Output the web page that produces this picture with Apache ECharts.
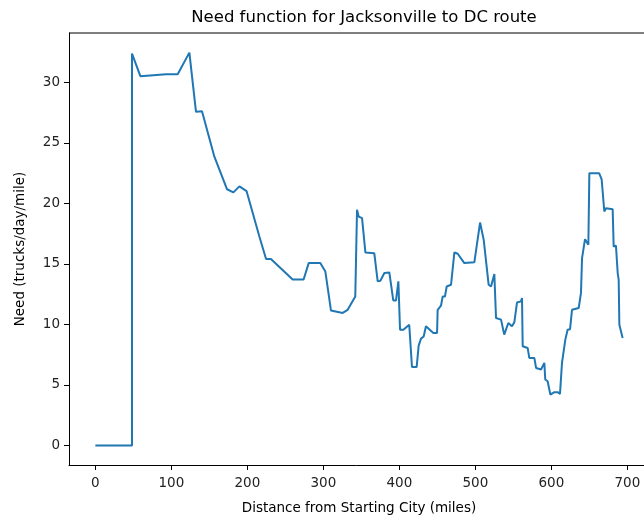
<!DOCTYPE html>
<html><head><meta charset="utf-8">
<script src="https://cdn.jsdelivr.net/npm/echarts@6/dist/echarts.min.js"></script>
<style>html,body{margin:0;padding:0;background:#fff}#c{width:644px;height:519px}</style>
</head><body><div id="c"></div>
<script>
const distances = [0,48.2,48.2,59.2,93,108.3,123.7,132.4,140.3,156.6,173.3,181.6,189.5,199,215.8,224.6,231,259.6,274,280.7,296,302.6,310,325.4,332,342,344.3,346.5,350.9,355.3,367,371.5,375,380.3,386.8,392,395.6,398.7,400.9,405.3,413,416.6,422.8,425.4,428.5,432,435,444.7,449.6,450.4,454.8,457,460,462.3,468,472.4,476.8,485.5,498.7,506.2,511,513,517.5,520.6,525,527.2,533.8,538,543.4,548.2,551.3,554.8,560,561.4,562.3,568.8,571,577.6,579.9,586.4,590.8,592,595.1,598.7,604,608.3,611.4,614,618.4,621.4,624.6,627.2,636,639,640.4,642.5,644.3,646.9,648.7,650,663,666.2,669.7,671.9,680.7,682,685,687.3,688.6,689.5,691.7,693.8];
const need = [0,0,32.37,30.5,30.67,30.67,32.45,27.56,27.6,23.85,21.16,20.9,21.4,21.0,17.26,15.4,15.4,13.7,13.7,15.06,15.06,14.37,11.15,10.94,11.2,12.3,19.46,18.9,18.77,15.94,15.88,13.55,13.6,14.24,14.29,11.98,11.98,13.55,9.56,9.56,9.97,6.48,6.48,8.24,8.82,9.0,9.84,9.29,9.29,11.2,11.54,12.3,12.3,13.13,13.27,15.94,15.83,15.06,15.14,18.41,16.98,16.84,13.27,13.13,14.15,10.52,10.39,9.15,10.11,9.84,10.17,11.8,11.9,12.17,8.19,8.05,7.23,7.23,6.4,6.27,6.82,5.44,5.3,4.2,4.4,4.4,4.26,6.82,8.74,9.56,9.6,11.2,11.35,12.6,15.47,15.6,17.04,17.04,16.57,22.48,22.48,21.98,19.32,19.59,19.51,16.43,16.5,14.24,13.7,9.97,10.1,8.88];
const xTicks = [0,100,200,300,400,500,600,700];
const yTicks = [0,5,10,15,20,25,30];
const titleText = 'Need function for Jacksonville to DC route';
const xName = 'Distance from Starting City (miles)';
const yName = 'Need (trucks/day/mile)';

const ff = 'DejaVu Sans';
const chart = echarts.init(document.getElementById('c'), null, {renderer:'canvas'});
chart.setOption({
  animation:false,
  title:{text:titleText,left:359,textAlign:'center',top:4,textStyle:{fontFamily:ff,fontSize:16.5,fontWeight:'normal',color:'#000'}},
  grid:{left:69,right:-5,top:33,bottom:54,outerBoundsMode:'none',containLabel:false},
  xAxis:{type:'value',min:-34.7,max:728.5,
    name:xName,nameLocation:'middle',nameGap:36,nameTextStyle:{fontFamily:ff,fontSize:13.5,color:'#000'},
    axisLine:{show:true,onZero:false,lineStyle:{color:'#000',width:1}},
    axisTick:{show:true,inside:false,length:5,customValues:xTicks,lineStyle:{color:'#000'}},
    axisLabel:{customValues:xTicks,fontFamily:ff,fontSize:13.5,color:'#222',margin:11},
    splitLine:{show:false}},
  yAxis:{type:'value',min:-1.62,max:34.07,
    name:yName,nameLocation:'middle',nameGap:42,nameRotate:90,nameTextStyle:{fontFamily:ff,fontSize:13.5,color:'#000'},
    axisLine:{show:true,onZero:false,lineStyle:{color:'#000',width:1}},
    axisTick:{show:true,inside:false,length:5,customValues:yTicks,lineStyle:{color:'#000'}},
    axisLabel:{customValues:yTicks,fontFamily:ff,fontSize:13.5,color:'#222',margin:9},
    splitLine:{show:false}},
  graphic:[{type:'line',shape:{x1:69,y1:33,x2:649,y2:33},style:{stroke:'#000',lineWidth:1}}],
  series:[{type:'line',data:distances.map((d,i)=>[d,need[i]]),showSymbol:false,symbol:'none',
    lineStyle:{color:'#1f77b4',width:2},itemStyle:{color:'#1f77b4'}}]
});
</script></body></html>
